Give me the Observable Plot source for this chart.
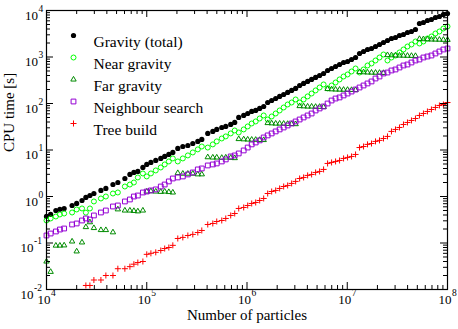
<!DOCTYPE html>
<html>
<head>
<meta charset="utf-8">
<script src="https://cdn.jsdelivr.net/npm/d3@7"></script>
<script src="https://cdn.jsdelivr.net/npm/@observablehq/plot@0.6"></script>
<style>
  html, body { margin: 0; padding: 0; background: #fff; }
  #chart svg { display: block; }
</style>
</head>
<body>
<div id="chart"></div>
<script>
// Number of particles (shared by all series)
const particles = [10000, 11000, 12400, 13600, 15000, 18000, 20000, 22600, 24700, 27100,
  29700, 34900, 39100, 46000, 51500, 60500, 67900, 74400, 81500, 91500,
  100000, 110000, 123000, 138000, 151000, 166000, 182000, 204000, 229000, 257000,
  288000, 323000, 354000, 406000, 456000, 499000, 560000, 614000, 688000, 754000,
  827000, 927000, 1016000, 1114000, 1221000, 1338000, 1467000, 1608000, 1762000, 1932000,
  2117000, 2321000, 2544000, 2788000, 3056000, 3350000, 3671000, 4024000, 4411000, 4834000,
  5299000, 5808000, 6366000, 6978000, 7648000, 8383000, 9188000, 10070000, 11040000, 12100000,
  13260000, 14540000, 15930000, 17460000, 19140000, 20980000, 22990000, 25200000, 27620000, 30280000,
  33190000, 36380000, 39870000, 43700000, 47900000, 52500000, 57540000, 63070000, 69130000, 75770000,
  83050000, 91030000, 100000000];

const gravityTotal = [0.372, 0.411, 0.50, 0.53, 0.55, 0.641, 0.708, 0.821, 0.953, 1.05,
  1.16, 1.35, 1.49, 1.81, 2.00, 2.44, 2.98, 3.29, 3.46, 4.21,
  4.89, 5.40, 5.96, 6.58, 7.27, 8.02, 8.86, 10.8, 11.9, 12.5,
  13.8, 15.3, 16.9, 22.7, 25.1, 27.7, 30.5, 32.1, 35.4, 39.1,
  50.1, 55.3, 61.0, 67.4, 70.8, 78.2, 86.3, 105, 116, 128,
  142, 156, 173, 191, 211, 244, 270, 298, 329, 363,
  400, 442, 513, 566, 625, 690, 762, 800, 884, 976,
  1190, 1313, 1450, 1524, 1682, 1858, 2051, 2264, 2500, 2627,
  2900, 3048, 3365, 3536, 3904, 5254, 5521, 6095, 6405, 7071,
  7430, 8204, 8620];

const nearGravity = [0.305, 0.337, 0.372, 0.411, 0.431, 0.453, 0.526, 0.553, 0.45, 0.553,
  0.782, 0.907, 1.0, 1.16, 1.22, 1.64, 1.81, 2.0, 2.57, 3.13,
  2.70, 3.13, 3.63, 4.21, 4.89, 5.67, 6.58, 5.67, 6.58, 7.64,
  8.86, 10.3, 11.9, 11.3, 13.2, 15.3, 17.7, 19.6, 22.7, 26.3,
  23.8, 27.7, 32.1, 37.2, 41.1, 47.6, 55.3, 45.3, 52.6, 61.0,
  70.8, 82.1, 95.3, 105, 122, 105, 122, 142, 164, 191,
  221, 257, 211, 244, 283, 329, 381, 421, 488, 566,
  464, 539, 657, 725, 841, 976, 1132, 841, 976, 1077,
  1250, 1450, 1682, 1858, 2155, 1952, 2155, 2500, 2760, 3202,
  3536, 4102, 4529];

const farGravity = [0.040, 0.024, 0.088, 0.088, 0.089, 0.108, 0.066, 0.103, 0.22, 0.28,
  0.21, 0.19, 0.19, 0.17, 0.53, 0.50, 0.50, 0.49, 0.48, 0.50,
  1.28, 1.30, 1.28, 1.26, 1.28, 1.25, 1.22, 3.2, 3.1, 3.1,
  3.1, 3.0, 3.0, 7.0, 6.9, 6.9, 6.8, 6.9, 6.8, 6.7,
  17.2, 17.0, 16.8, 16.7, 16.6, 16.5, 16.4, 38, 37.5, 37,
  37, 36.8, 36.5, 36.3, 36, 88, 87, 86, 86, 85,
  85, 84, 205, 202, 200, 199, 198, 197, 196, 195,
  475, 470, 465, 462, 460, 458, 455, 1100, 1090, 1080,
  1075, 1070, 1065, 1060, 1055, 2450, 2420, 2400, 2380, 2370,
  2360, 2350, 2340];

const neighbourSearch = [0.145, 0.160, 0.177, 0.195, 0.205, 0.250, 0.263, 0.305, 0.337, 0.320,
  0.391, 0.453, 0.500, 0.610, 0.641, 0.782, 0.863, 1.00, 1.05, 1.22,
  1.28, 1.35, 1.42, 1.64, 1.81, 2.11, 2.44, 2.57, 2.70, 2.98,
  3.29, 3.82, 4.01, 4.65, 4.89, 5.14, 5.67, 6.27, 7.27, 7.64,
  8.43, 9.78, 11.3, 13.2, 14.5, 16.1, 18.6, 20.6, 22.7, 25.1,
  27.7, 30.5, 33.7, 37.2, 41.1, 45.3, 50.1, 55.3, 61.0, 70.8,
  78.2, 86.3, 100, 116, 128, 135, 149, 164, 181, 200,
  221, 244, 270, 298, 345, 381, 442, 464, 513, 539,
  595, 657, 690, 762, 841, 884, 976, 1025, 1077, 1190,
  1313, 1450, 1524];

const treeBuild = [null, null, null, null, null, null, null, null, 0.0122, 0.0122,
  0.016, 0.016, 0.020, 0.020, 0.028, 0.028, 0.031, 0.035, 0.038, 0.040,
  0.057, 0.060, 0.063, 0.069, 0.076, 0.080, 0.089, 0.125, 0.132, 0.145,
  0.153, 0.168, 0.186, 0.250, 0.263, 0.290, 0.305, 0.337, 0.391, 0.431,
  0.553, 0.581, 0.641, 0.708, 0.744, 0.821, 0.907, 1.16, 1.28, 1.35,
  1.49, 1.64, 1.73, 1.91, 2.11, 2.44, 2.57, 2.84, 2.98, 3.29,
  3.46, 3.82, 5.14, 5.40, 5.67, 5.96, 6.58, 6.92, 7.27, 8.02,
  11.3, 11.9, 13.2, 13.8, 15.3, 16.1, 17.7, 19.6, 25.1, 27.7,
  30.5, 35.4, 39.1, 43.2, 47.6, 55.3, 61.0, 67.4, 74.4, 82.1,
  90.7, 95.3, 105];

const seriesNames = ["Gravity (total)", "Near gravity", "Far gravity", "Neighbour search", "Tree build"];
const xMajorTicks = [1e4, 1e5, 1e6, 1e7, 1e8];
const xTickExponents = ["4", "5", "6", "7", "8"];
const yMajorTicks = [1e-2, 1e-1, 1, 10, 100, 1000, 1e4];
const yTickExponents = ["-2", "-1", "0", "1", "2", "3", "4"];
const xLabel = "Number of particles";
const yLabel = "CPU time [s]";

// styles (xmgrace-like)
const styles = [
  {symbol: "circle", r: 2.6, fill: "#000000", stroke: "none"},
  {symbol: "circle", r: 2.5, fill: "none", stroke: "#00ff00"},
  {symbol: "triangle", r: 2.0, fill: "none", stroke: "#008b00"},
  {symbol: "square", r: 2.7, fill: "none", stroke: "#9400d3"},
  {symbol: "plus", r: 2.1, fill: "none", stroke: "#ff0000"}
];
const seriesValues = [gravityTotal, nearGravity, farGravity, neighbourSearch, treeBuild];

const W = 458, H = 329;
const mL = 46, mR = 11, mT = 10, mB = 40;
const plotW = W - mL - mR, plotH = H - mT - mB;
const font = "Liberation Serif";

const minorTicks = (lo, hi) => {
  const out = [];
  for (let k = lo; k < hi; k++) for (let m = 2; m <= 9; m++) out.push(m * Math.pow(10, k));
  return out;
};
const xMinor = minorTicks(4, 8);
const yMinor = minorTicks(-2, 4);

const marks = [];
seriesValues.forEach((vals, i) => {
  const rows = particles.map((n, j) => ({n, t: vals[j]})).filter(d => d.t != null);
  const s = styles[i];
  marks.push(Plot.dot(rows, {x: "n", y: "t", symbol: s.symbol, r: s.r, fill: s.fill, stroke: s.stroke, strokeWidth: 1}));
});

// inward ticks on all four sides
const tickMarks = (vals, len) => [
  Plot.ruleX(vals, {x: d => d, insetTop: plotH - len, stroke: "black"}),
  Plot.ruleX(vals, {x: d => d, insetBottom: plotH - len, stroke: "black"}),
];
const tickMarksY = (vals, len) => [
  Plot.ruleY(vals, {y: d => d, insetRight: plotW - len, stroke: "black"}),
  Plot.ruleY(vals, {y: d => d, insetLeft: plotW - len, stroke: "black"}),
];

// tick labels
const xl = xMajorTicks.map((v, i) => ({v, e: xTickExponents[i]}));
const yl = yMajorTicks.map((v, i) => ({v, e: yTickExponents[i]}));
const ylPos = yl.filter(d => !d.e.startsWith("-"));
const ylNeg = yl.filter(d => d.e.startsWith("-"));

const labelMarks = [
  Plot.text(xl, {x: "v", text: () => "10", frameAnchor: "bottom", dy: 14.5, dx: -2.5, textAnchor: "middle", fontSize: 13, fontFamily: font, fill: "black"}),
  Plot.text(xl, {x: "v", text: "e", frameAnchor: "bottom", dy: 6, dx: 4.5, textAnchor: "start", fontSize: 9.5, fontFamily: font, fill: "black"}),
  Plot.text(ylPos, {y: "v", text: () => "10", frameAnchor: "left", dx: -8.5, dy: 5, textAnchor: "end", fontSize: 13, fontFamily: font, fill: "black"}),
  Plot.text(ylPos, {y: "v", text: "e", frameAnchor: "left", dx: -8, dy: -2, textAnchor: "start", fontSize: 9.5, fontFamily: font, fill: "black"}),
  Plot.text(ylNeg, {y: "v", text: () => "10", frameAnchor: "left", dx: -13, dy: 5, textAnchor: "end", fontSize: 13, fontFamily: font, fill: "black"}),
  Plot.text(ylNeg, {y: "v", text: "e", frameAnchor: "left", dx: -12.5, dy: -2, textAnchor: "start", fontSize: 9.5, fontFamily: font, fill: "black"}),
  Plot.text([xLabel], {text: d => d, frameAnchor: "bottom", dy: 30, fontSize: 15, fontFamily: font, fill: "black"}),
  Plot.text([yLabel], {text: d => d, frameAnchor: "left", dx: -37, dy: 2, rotate: -90, fontSize: 15, fontFamily: font, fill: "black"}),
];

// legend inside the frame
const legendMarks = [];
seriesNames.forEach((name, i) => {
  const s = styles[i];
  legendMarks.push(Plot.dot([name], {frameAnchor: "top-left", dx: 27, dy: 25 + i * 22, symbol: s.symbol, r: s.r, fill: s.fill, stroke: s.stroke, strokeWidth: 1}));
  legendMarks.push(Plot.text([name], {text: d => d, frameAnchor: "top-left", dx: 47, dy: 25 + i * 22, textAnchor: "start", fontSize: 15.5, fontFamily: font, fill: "black"}));
});

const chart = Plot.plot({
  width: W, height: H,
  marginLeft: mL, marginRight: mR, marginTop: mT, marginBottom: mB,
  style: {background: "white", fontFamily: font},
  x: {type: "log", domain: [1e4, 1e8], axis: null},
  y: {type: "log", domain: [1e-2, 1e4], axis: null},
  marks: [
    ...marks,
    ...tickMarks(xMajorTicks, 7), ...tickMarks(xMinor, 4),
    ...tickMarksY(yMajorTicks, 7), ...tickMarksY(yMinor, 4),
    Plot.frame({stroke: "black", strokeWidth: 1.2}),
    ...labelMarks,
    ...legendMarks
  ]
});
document.getElementById("chart").appendChild(chart);
</script>
</body>
</html>
